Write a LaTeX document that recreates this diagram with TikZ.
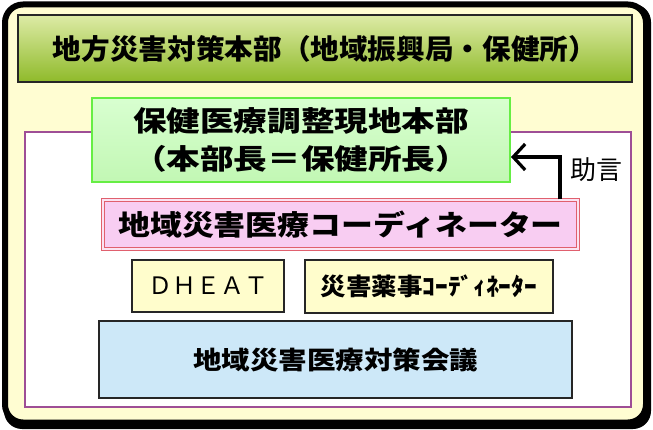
\documentclass[tikz,border=0pt]{standalone}
\usepackage{fontspec}
\usetikzlibrary{arrows.meta}
\newfontfamily\jpA{Noto Sans CJK JP}
\newfontfamily\jpB{Noto Sans CJK JP}[FakeStretch=1.2]
\newfontfamily\jpC{Noto Sans CJK JP}[FakeStretch=1.14]
\newfontfamily\jpD{Noto Sans CJK JP}[FakeStretch=1.14]
\newfontfamily\jpE{Noto Sans CJK JP}[FakeStretch=1.06]
\newfontfamily\jpF{Noto Sans CJK JP}[FakeStretch=1.03]
\definecolor{outerfill}{HTML}{FFFDD2}
\definecolor{titletop}{HTML}{DDEBA6}
\definecolor{titlebot}{HTML}{8FBA2A}
\definecolor{greenline}{HTML}{66EE44}
\definecolor{greentop}{HTML}{D8FFD0}
\definecolor{greenbot}{HTML}{C2F7B4}
\definecolor{purpleline}{HTML}{9E4E96}
\definecolor{pinkline}{HTML}{E0606E}
\definecolor{pinkfill}{HTML}{F8CDF2}
\definecolor{pinkgap}{HTML}{FBE3F2}
\definecolor{yellowfill}{HTML}{FFFDCC}
\definecolor{bluefill}{HTML}{CDE8F8}
\definecolor{darkline}{HTML}{262626}
\tikzset{
  box/.style={rectangle, inner sep=0pt, align=center, text=black},
  titlebox/.style={box, draw=darkline, line width=1.8pt, top color=titletop, bottom color=titlebot},
  greenbox/.style={box, draw=greenline, line width=2pt, top color=greentop, bottom color=greenbot},
  pinkbox/.style={box, draw=pinkline, line width=1pt, double=pinkgap, double distance=1.6pt, fill=pinkfill},
  yellowbox/.style={box, draw=darkline, line width=1.8pt, fill=yellowfill},
  bluebox/.style={box, draw=darkline, line width=1.8pt, fill=bluefill},
  frame/.style={rectangle, inner sep=0pt},
  adviceline/.style={line width=3.2pt, -{Straight Barb[length=12pt,width=26pt,line width=3.2pt]}},
}
\begin{document}
\begin{tikzpicture}[x=1pt,y=-1pt]
\useasboundingbox (0,0) rectangle (653,430);
% outer frame (with slight shadow at bottom right)
\path[fill=black, rounded corners=18pt] (4,4) rectangle (651,429);
\node[frame, draw=black, line width=6pt, fill=outerfill, rounded corners=18pt,
      minimum width=641pt, minimum height=418pt] (outer) at (325.5,213.5) {};
% title bar
\node[titlebox, minimum width=614pt, minimum height=67pt,
      font=\jpF\bfseries\fontsize{27.8pt}{32pt}\selectfont] (title) at (325,48.5)
  {地方災害対策本部（地域振興局・保健所）};
% purple frame
\node[frame, draw=purpleline, line width=1.6pt, fill=white,
      minimum width=606pt, minimum height=275pt] (inner) at (328,269.5) {};
% green box
\node[greenbox, minimum width=418pt, minimum height=84pt,
      font=\jpB\bfseries\fontsize{28pt}{38pt}\selectfont] (hq) at (301,140)
  {保健医療調整現地本部\\（本部長＝保健所長）};
% pink box
\node[pinkbox, minimum width=475pt, minimum height=49pt,
      font=\jpC\bfseries\fontsize{28pt}{32pt}\selectfont] (coord) at (340.5,224.5)
  {地域災害医療コーディネーター};
% DHEAT
\node[yellowbox, minimum width=152pt, minimum height=52pt,
      font=\jpA\fontsize{24pt}{28pt}\selectfont] (dheat) at (208,286)
  {ＤＨＥＡＴ};
% pharmacy coordinator
\node[yellowbox, minimum width=248pt, minimum height=53pt,
      font=\jpE\bfseries\fontsize{24pt}{28pt}\selectfont] (pharm) at (429,286.5)
  {災害薬事ｺｰﾃﾞｨﾈｰﾀｰ};
% blue box
\node[bluebox, minimum width=473pt, minimum height=77pt,
      font=\jpD\bfseries\fontsize{25pt}{30pt}\selectfont] (council) at (335.5,359.5)
  {地域災害医療対策会議};
% advice arrow
\coordinate (bend) at (560,157);
\draw[adviceline] (bend |- coord.north) -- (bend) -- (bend -| hq.east);
\node[box, font=\jpA\fontsize{26pt}{30pt}\selectfont] (advice) at (596,170) {助言};
\end{tikzpicture}
\end{document}
